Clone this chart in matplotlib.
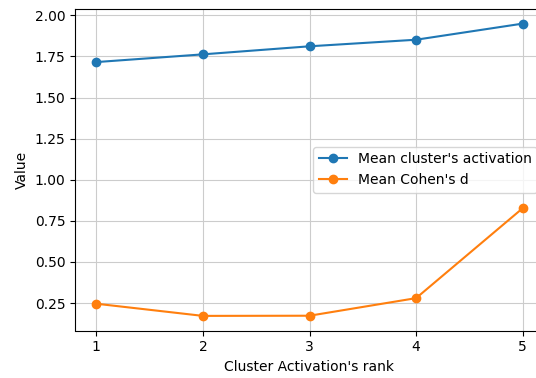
import matplotlib
matplotlib.use("Agg")
import matplotlib.pyplot as plt

ranks = [1, 2, 3, 4, 5]
mean_activation = [1.716, 1.763, 1.812, 1.852, 1.950]
mean_cohens_d = [0.246, 0.172, 0.173, 0.280, 0.827]

W, H = 536, 378
fig = plt.figure(figsize=(W / 100, H / 100), dpi=100)
ax = fig.add_axes([75 / W, (H - 330.5) / H, (544 - 75) / W, (330.5 - 9) / H])

ax.plot(ranks, mean_activation, marker="o", label="Mean cluster's activation")
ax.plot(ranks, mean_cohens_d, marker="o", label="Mean Cohen's d")
ax.set_xticks(ranks)
ax.set_xlabel("Cluster Activation's rank")
ax.set_ylabel("Value")
ax.grid(True, color="#cccccc")
ax.legend(loc="center right")

fig.savefig("out.png", dpi=100)
